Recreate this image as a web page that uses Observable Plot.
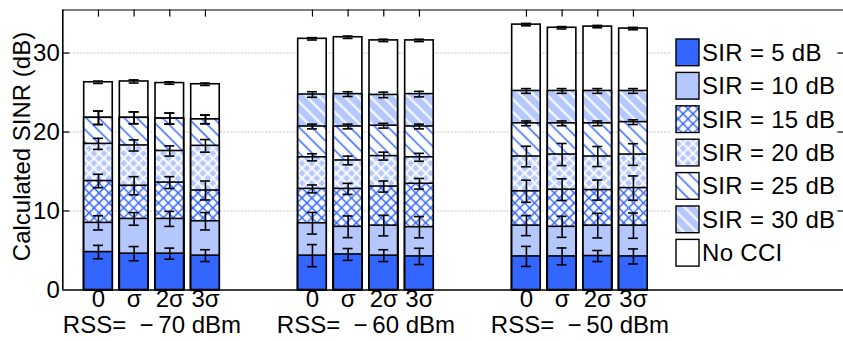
<!DOCTYPE html>
<html><head><meta charset="utf-8">
<script src="https://cdn.jsdelivr.net/npm/d3@7"></script>
<script src="https://cdn.jsdelivr.net/npm/@observablehq/plot@0.6"></script>
<style>
body{margin:0;background:#fff}
svg{font-family:"Liberation Sans",Arial,Helvetica,sans-serif}
</style>
</head><body><div id="chart"></div>
<script>
// ---- data ----
const groups = ["RSS=\u00a0\u00a0\u2212\u200970 dBm", "RSS=\u00a0\u00a0\u2212\u200960 dBm", "RSS=\u00a0\u00a0\u2212\u200950 dBm"];
const conditions = ["0", "σ", "2σ", "3σ"];
const seriesNames = ["SIR = 5 dB", "SIR = 10 dB", "SIR = 15 dB", "SIR = 20 dB", "SIR = 25 dB", "SIR = 30 dB", "No CCI"];
const yTicks = [0, 10, 20, 30];

// values per bar (group-major: 3 groups x 4 conditions)
const sir5     = [4.8, 4.6, 4.6, 4.35,   4.35, 4.5, 4.35, 4.25,   4.25, 4.25, 4.3, 4.25];
const sir5Err  = [0.85, 0.9, 0.7, 0.75,  1.4, 0.75, 0.75, 1.03,   1.27, 1.07, 0.7, 0.95];
const sir10    = [8.5, 9.0, 9.0, 8.7,    8.45, 8.0, 8.15, 7.95,   8.15, 8.0, 8.15, 8.15];
const sir10Err = [0.9, 0.8, 0.95, 1.1,   1.37, 1.37, 1.3, 1.35,   1.27, 1.33, 1.56, 1.6];
const sir15    = [13.8, 13.2, 13.6, 12.6, 12.8, 12.8, 13.1, 13.45, 12.5, 12.7, 12.65, 12.9];
const sir15Err = [0.85, 1.15, 0.75, 1.2,  0.5, 0.7, 0.7, 0.67,    1.4, 1.37, 1.27, 1.54];
const sir20    = [18.5, 18.3, 17.6, 18.25, 16.8, 16.4, 16.95, 16.8, 16.9, 17.15, 16.9, 17.15];
const sir20Err = [0.7, 0.7, 0.65, 0.8,   0.45, 0.55, 0.5, 0.5,    1.3, 1.4, 1.27, 1.37];
const sir25    = [21.8, 21.8, 21.7, 21.6, 20.7, 20.7, 20.8, 20.7,  21.1, 21.1, 21.1, 21.25];
const sir25Err = [0.85, 0.75, 0.7, 0.55, 0.3, 0.3, 0.3, 0.3,      0.3, 0.3, 0.3, 0.3];
const sir30    = [21.8, 21.8, 21.7, 21.6, 24.75, 24.8, 24.7, 24.8, 25.2, 25.2, 25.2, 25.2];
const sir30Err = [0.85, 0.75, 0.7, 0.55, 0.35, 0.3, 0.35, 0.35,   0.3, 0.3, 0.3, 0.3];
const noCci    = [26.3, 26.4, 26.2, 26.05, 31.8, 32.0, 31.6, 31.6, 33.6, 33.2, 33.35, 33.1];
const noCciErr = [0.15, 0.2, 0.15, 0.15, 0.15, 0.15, 0.15, 0.15,  0.15, 0.15, 0.15, 0.15];

const seriesValues = [sir5, sir10, sir15, sir20, sir25, sir30, noCci];
const seriesErrors = [sir5Err, sir10Err, sir15Err, sir20Err, sir25Err, sir30Err, noCciErr];

// ---- styles ----
const BLUE = "#3366ff", LIGHT = "#b4c8fe";
const fills = ["#3366ff", "#b4c8fe", "url(#p15)", "url(#p20)", "url(#p25)", "url(#p30)", "#ffffff"];
const FS = 24;
const xMin = -1, xMax = 20.89, yMax = 35.45;
const halfBar = 0.4, halfCap = 0.14;

// build rows
const bars = [];
groups.forEach((g, gi) => conditions.forEach((c, ci) => {
  const i = gi * 4 + ci;
  bars.push({i, pos: gi * 6 + ci, cond: c, group: g});
}));
const rows = [];
seriesNames.forEach((s, si) => bars.forEach(b => {
  rows.push({series: si, pos: b.pos, v: seriesValues[si][b.i], e: seriesErrors[si][b.i]});
}));

const barMarks = [];
for (let si = seriesNames.length - 1; si >= 0; si--) {
  barMarks.push(Plot.rectY(rows.filter(r => r.series === si), {
    x1: r => r.pos - halfBar, x2: r => r.pos + halfBar, y1: 0, y2: "v",
    fill: fills[si], stroke: "black", strokeWidth: 1.6
  }));
}

const plot = Plot.plot({
  width: 843, height: 341,
  marginLeft: 62.3, marginRight: 0, marginTop: 9.5, marginBottom: 51.5,
  x: {domain: [xMin, xMax], axis: null},
  y: {domain: [0, yMax], axis: null},
  style: {background: "white", color: "black", overflow: "visible", fontFamily: "'Liberation Sans', Arial, sans-serif"},
  marks: [
    Plot.ruleY(yTicks.filter(d => d > 0), {stroke: "#c4c4c4", strokeWidth: 1, strokeDasharray: "2,1.5"}),
    ...barMarks,
    // error bars
    Plot.ruleX(rows, {x: "pos", y1: r => r.v - r.e, y2: r => r.v + r.e, stroke: "black", strokeWidth: 1.6}),
    Plot.ruleY(rows, {y: r => r.v - r.e, x1: r => r.pos - halfCap, x2: r => r.pos + halfCap, stroke: "black", strokeWidth: 1.6}),
    Plot.ruleY(rows, {y: r => r.v + r.e, x1: r => r.pos - halfCap, x2: r => r.pos + halfCap, stroke: "black", strokeWidth: 1.6}),
    // frame
    Plot.ruleY([0], {stroke: "black", strokeWidth: 1.6}),
    Plot.ruleY([yMax], {stroke: "black", strokeWidth: 1.2}),
    Plot.ruleX([xMin], {stroke: "black", strokeWidth: 1.6}),
    // top ticks
    Plot.ruleX(bars, {x: "pos", y1: yMax, y2: yMax - 0.9, stroke: "black", strokeWidth: 1.2}),
    // left / right ticks
    Plot.ruleY(yTicks.filter(d => d > 0), {x1: xMin, x2: xMin + 0.2, stroke: "black", strokeWidth: 1.2}),
    Plot.ruleY(yTicks.filter(d => d > 0), {x1: xMax - 0.15, x2: xMax, stroke: "black", strokeWidth: 1.2}),
    // y tick labels
    Plot.text(yTicks, {x: xMin, y: d => d, text: d => String(d), textAnchor: "end", dx: -3, fontSize: FS, fill: "black"}),
    // y label
    Plot.text(["Calculated SINR (dB)"], {frameAnchor: "left", textAnchor: "middle", rotate: -90, dx: -40, dy: -3.5, fontSize: FS, fill: "black"}),
    // x tick labels
    Plot.text(bars, {x: "pos", text: "cond", frameAnchor: "bottom", dy: 16.5, fontSize: FS, fill: "black"}),
    // group labels
    Plot.text(groups, {x: (d, i) => i * 6 + 1.5, text: d => d, frameAnchor: "bottom", dy: 43, fontSize: FS, fill: "black"})
  ]
});

const svg = d3.select(plot);
const defs = svg.insert("defs", ":first-child");
function hatch(id, bg, fg, size, angle, cross, sw) {
  const p = defs.append("pattern").attr("id", id).attr("patternUnits", "userSpaceOnUse")
    .attr("width", size).attr("height", size).attr("patternTransform", `rotate(${angle})`);
  p.append("rect").attr("width", size).attr("height", size).attr("fill", bg);
  const h = size / 2;
  p.append("path").attr("d", cross ? `M${h},-1V${size + 1}M-1,${h}H${size + 1}` : `M${h},-1V${size + 1}`)
    .attr("stroke", fg).attr("stroke-width", sw).attr("fill", "none");
}
hatch("p15", "#ffffff", BLUE, 7, 45, true, 1.5);
hatch("p20", LIGHT, "#ffffff", 7, 45, true, 1.8);
hatch("p25", "#ffffff", BLUE, 9, -45, false, 1.5);
hatch("p30", LIGHT, "#ffffff", 9, -45, false, 2);

// legend
const lg = svg.append("g").attr("text-anchor", "start").attr("font-size", FS);
lg.append("rect").attr("x", 671).attr("y", 30).attr("width", 165).attr("height", 246).attr("fill", "white");
seriesNames.forEach((s, i) => {
  const y0 = 39 + 33.4 * i;
  lg.append("rect").attr("x", 676).attr("y", y0).attr("width", 23).attr("height", 26.7)
    .attr("fill", fills[i]).attr("stroke", "black").attr("stroke-width", 1.4);
  lg.append("text").attr("x", 702).attr("y", y0 + 13.3).attr("dy", "0.35em")
    .attr("text-anchor", "start").attr("font-size", FS).attr("letter-spacing", "0.3px")
    .attr("fill", "black").text(s);
});

document.getElementById("chart").appendChild(plot);
</script>
</body></html>
